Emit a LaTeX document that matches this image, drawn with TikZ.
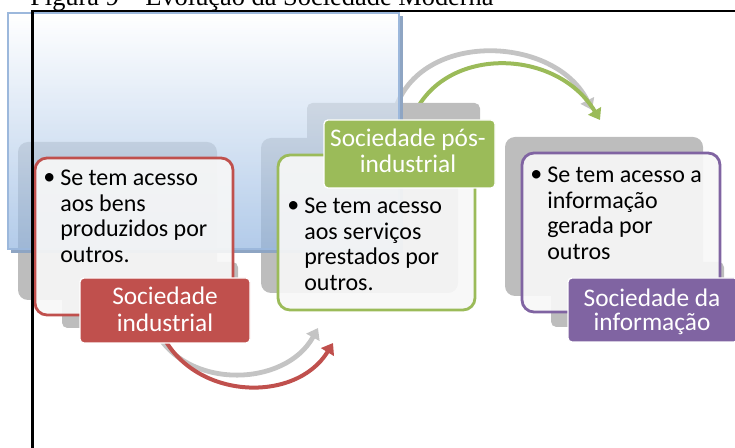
\documentclass[tikz,border=0pt]{standalone}
\usepackage{fontspec}
\setmainfont{Carlito}
\newfontfamily\titlefont{Liberation Serif}
\usetikzlibrary{arrows.meta}
\definecolor{cred}{HTML}{C0504D}
\definecolor{cgreen}{HTML}{9BBB59}
\definecolor{cpurple}{HTML}{8064A2}
\definecolor{cshadow}{HTML}{BDBDBD}
\definecolor{carrow}{HTML}{C4C4C4}
\definecolor{bborder}{HTML}{9CB8DC}
\definecolor{bshadow}{HTML}{8EA5C3}
\definecolor{bfill}{HTML}{92B5E0}
\definecolor{cardfill}{HTML}{F7F7F7}
\begin{document}
\begin{tikzpicture}[x=0.75pt,y=-0.75pt,
  shadowbox/.style={fill=cshadow, rounded corners=7.5pt},
  card/.style={fill=cardfill, fill opacity=0.92, line width=2.1pt, rounded corners=9pt},
  lbl/.style={draw=white, line width=1pt, rounded corners=3pt},
  lbltext/.style={text=white, font=\fontsize{19}{19.5}\selectfont, anchor=base, inner sep=0pt},
  cardtext/.style={font=\fontsize{18}{19.3}\selectfont, align=left, anchor=north west, inner sep=0pt},
  bulletmark/.style={font=\fontsize{18}{19.3}\selectfont, anchor=base west, inner sep=0pt},
  arcarrow/.style={line width=3.6pt, -{Triangle[width=11pt,length=8pt]}},
  arcarrowb/.style={line width=3pt, -{Triangle[width=11pt,length=8pt]}},
]
\useasboundingbox (0,0) rectangle (735,448);

% arrows
\coordinate (g1s) at (155,330);
\coordinate (g1e) at (318,328);
\coordinate (r1s) at (160,330);
\coordinate (r1e) at (333,343);
\coordinate (g2s) at (395,110);
\coordinate (g2e) at (592,110);
\coordinate (v2s) at (410,125);
\coordinate (v2e) at (600,120);
\draw[arcarrow, carrow] (g1s) .. controls (185,390) and (285,388) .. (g1e);
\draw[arcarrowb, cred] (r1s) .. controls (190,400) and (295,405) .. (r1e);
\draw[arcarrow, carrow] (g2s) .. controls (420,30) and (555,35) .. (g2e);
\draw[arcarrowb, cgreen] (v2s) .. controls (435,45) and (555,45) .. (v2e);

% shadows
\fill[shadowbox] (18,142) rectangle (217,300);
\fill[shadowbox, rounded corners=4pt] (62,262) rectangle (238,328);
\fill[shadowbox] (261,138) rectangle (458,293);
\fill[shadowbox, rounded corners=4pt] (307,103) rectangle (480,171);
\fill[shadowbox] (505,137) rectangle (703,296);
\fill[shadowbox, rounded corners=4pt] (551,262) rectangle (724,327);

% blue panel
\fill[bshadow] (399,16) rectangle (403,253);
\fill[bshadow] (11,249) rectangle (403,253);
\shade[top color=white, bottom color=bfill, fill opacity=0.7] (8,13) rectangle (399,249);
\draw[bborder, line width=1.8pt] (8,13) rectangle (399,249);

% cards
\filldraw[card, draw=cred] (35,158) rectangle (233,315);
\filldraw[card, draw=cgreen] (278,155) rectangle (475,310);
\filldraw[card, draw=cpurple] (522,153) rectangle (720,312);

% labels
\filldraw[lbl, fill=cred] (80,278) rectangle (250,343);
\filldraw[lbl, fill=cgreen] (324,120) rectangle (495,188);
\filldraw[lbl, fill=cpurple] (568,278) rectangle (738,342);

% label texts
\node[lbltext] (l1a) at (165,305) {Sociedade};
\node[lbltext] (l1b) at (165,332) {industrial};
\node[lbltext] (l2a) at (408,147) {Sociedade pós-};
\node[lbltext] (l2b) at (408,173) {industrial};
\node[lbltext] (l3a) at (652,307) {Sociedade da};
\node[lbltext] (l3b) at (652,331) {informação};

% card texts
\node[bulletmark] (b1) at (43,185) {•};
\node[cardtext] (t1) at (60,167) {\strut Se tem acesso\\aos bens\\produzidos por\\outros.};
\node[bulletmark] (b2) at (287,213) {•};
\node[cardtext] (t2) at (304,195) {\strut Se tem acesso\\aos serviços\\prestados por\\outros.};
\node[bulletmark] (b3) at (530,182) {•};
\node[cardtext] (t3) at (547,164) {\strut Se tem acesso a\\informação\\gerada por\\outros};

% frame
\draw[line width=1.9pt, line join=miter] (32.5,448) -- (32.5,11) -- (735,11);

% title (cut off at top, as in the reference)
\node[anchor=base west, inner sep=0pt, font=\titlefont\fontsize{19.8}{20}\selectfont] (title) at (30,6) {Figura 9 – Evolução da Sociedade Moderna};
\end{tikzpicture}
\end{document}
